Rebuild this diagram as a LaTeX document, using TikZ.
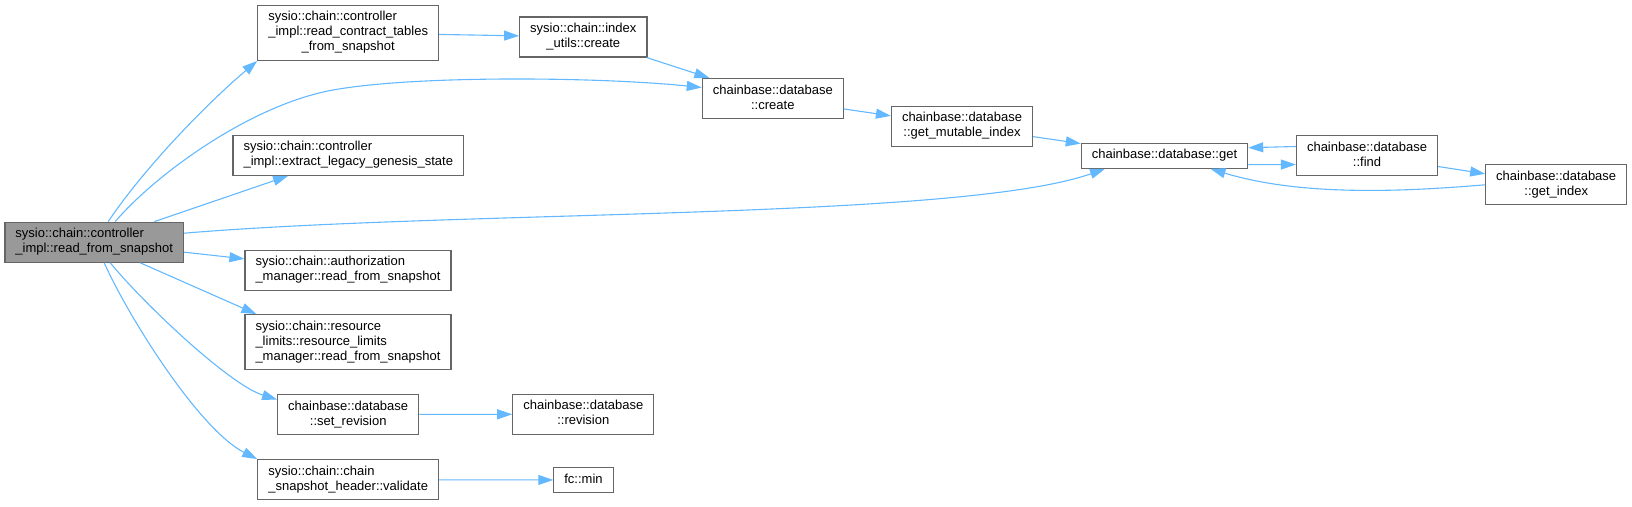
\documentclass[tikz,border=0pt]{standalone}
\usepackage{fontspec}
\setmainfont{Liberation Sans}
\usetikzlibrary{positioning,arrows.meta,calc}
\definecolor{edgeblue}{HTML}{63B8FF}
\definecolor{boxgray}{HTML}{666666}
\definecolor{rootgray}{HTML}{999999}
\newcommand{\fnlines}[2]{\begin{tabular}{@{}l@{}}#1\\\multicolumn{1}{@{}c@{}}{#2}\end{tabular}}
\newcommand{\fnline}[1]{\begin{tabular}{@{}c@{}}#1\end{tabular}}

\begin{document}
\begin{tikzpicture}[
  x=1pt, y=-1pt,
  font=\fontsize{13}{15}\selectfont,
  fn/.style={draw=boxgray, line width=1.2pt, fill=white, inner xsep=10.5pt, inner ysep=5pt},
  root/.style={fn, fill=rootgray},
  call/.style={draw=edgeblue, line width=1.1pt, -{Triangle[length=15pt,width=10pt]}},
]
  \useasboundingbox (0,0) rectangle (1632,506);
  \node[root] (main) at (94.2,242.2) {\fnlines{sysio::chain::controller}{\_impl::read\_from\_snapshot}};
  \node[fn] (rct) at (348.2,32.8) {\fnlines{sysio::chain::controller\\\_impl::read\_contract\_tables}{\_from\_snapshot}};
  \node[fn] (iuc) at (583.3,37) {\fnlines{sysio::chain::index}{\_utils::create}};
  \node[fn] (dbc) at (772.8,98.5) {\fnlines{chainbase::database}{::create}};
  \node[fn] (gmi) at (962,126.3) {\fnlines{chainbase::database}{::get\_mutable\_index}};
  \node[fn] (get) at (1164.5,155.7) {\fnline{chainbase::database::get}};
  \node[fn] (find) at (1367,155.5) {\fnlines{chainbase::database}{::find}};
  \node[fn] (gidx) at (1556.2,184.8) {\fnlines{chainbase::database}{::get\_index}};
  \node[fn] (elg) at (348.3,155.3) {\fnlines{sysio::chain::controller}{\_impl::extract\_legacy\_genesis\_state}};
  \node[fn] (arm) at (348,270.3) {\fnlines{sysio::chain::authorization}{\_manager::read\_from\_snapshot}};
  \node[fn] (rlm) at (348,342.2) {\fnlines{sysio::chain::resource\\\_limits::resource\_limits}{\_manager::read\_from\_snapshot}};
  \node[fn] (srv) at (348.2,414.5) {\fnlines{chainbase::database}{::set\_revision}};
  \node[fn] (rev) at (583.3,414.2) {\fnlines{chainbase::database}{::revision}};
  \node[fn] (val) at (348.2,479.7) {\fnlines{sysio::chain::chain}{\_snapshot\_header::validate}};
  \node[fn] (min) at (583.5,480) {\fnline{fc::min}};

  \draw[call] ([xshift=14pt]main.north) .. controls (147,164) and (211,100) .. (rct.south west);
  \draw[call] ([xshift=21pt]main.north) .. controls (155,175) and (250,105) .. (333,90)
    .. controls (416,75) and (600,77) .. ([yshift=11pt]dbc.west);
  \draw[call] (main) -- (elg);
  \draw[call] ([yshift=9pt]main.east) .. controls (460,210) and (960,220) .. ([xshift=-59.5pt]get.south);
  \draw[call] (main) -- (arm);
  \draw[call] ([xshift=46pt]main.south) -- ([xshift=12pt]rlm.north west);
  \draw[call] ([xshift=16pt]main.south) .. controls (145,305) and (230,385) .. ([yshift=15pt]srv.west);
  \draw[call] ([xshift=10pt]main.south) .. controls (130,320) and (200,430) .. (val.north west);
  \draw[call] (rct) -- (iuc);
  \draw[call] (iuc) -- (dbc);
  \draw[call] (dbc) -- (gmi);
  \draw[call] (gmi) -- (get);
  \draw[call] ([yshift=-9pt]get.east) -- ([yshift=-9pt]find.west);
  \draw[call] ([yshift=9pt]find.west) -- ([yshift=8pt]get.east);
  \draw[call] (find) -- (gidx);
  \draw[call] (gidx.west) .. controls (1400,192) and (1300,196) .. ([xshift=46pt]get.south);
  \draw[call] (srv) -- (rev);
  \draw[call] (val) -- (min);
\end{tikzpicture}
\end{document}
